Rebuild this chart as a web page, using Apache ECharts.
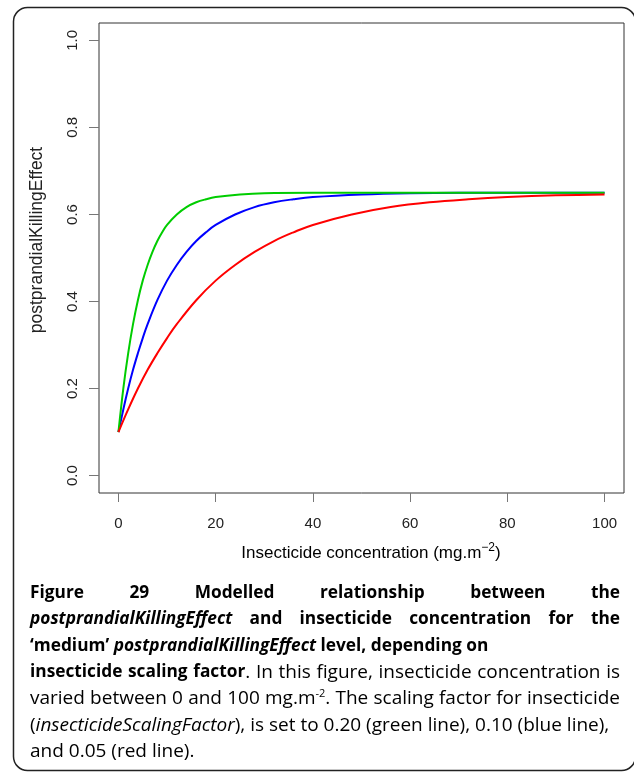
<!DOCTYPE html>
<html><head><meta charset="utf-8">
<script src="https://cdn.jsdelivr.net/npm/echarts@6/dist/echarts.min.js"></script>
<style>html,body{margin:0;padding:0;background:#fff}#c{width:634px;height:773px}</style>
</head><body><div id="c"></div>
<script>
// ---- data ----
const concGreen = [0,1,2,3,4,5,6,7,8,9,10,12,14,16,18,20,25,30,40,50,60,70,80,90,100];
const effectGreen = [0.100,0.200,0.281,0.348,0.403,0.448,0.484,0.514,0.539,0.559,0.576,0.600,0.617,0.628,0.635,0.640,0.646,0.649,0.650,0.650,0.650,0.650,0.650,0.650,0.650];
const concBlue = [0,1,2,3,4,5,6,8,10,12,14,16,18,20,24,28,32,36,40,50,60,70,80,90,100];
const effectBlue = [0.100,0.152,0.200,0.243,0.281,0.316,0.348,0.403,0.448,0.484,0.514,0.539,0.559,0.576,0.600,0.617,0.628,0.635,0.640,0.646,0.649,0.650,0.650,0.650,0.650];
const concRed = [0,2,4,6,8,10,12,16,20,24,28,32,36,40,48,56,64,72,80,90,100];
const effectRed = [0.100,0.152,0.200,0.243,0.281,0.316,0.348,0.403,0.448,0.484,0.514,0.539,0.559,0.576,0.600,0.617,0.628,0.635,0.640,0.644,0.646];
const xTicks = [0,20,40,60,80,100];
const yTicks = [0,0.2,0.4,0.6,0.8,1.0];
const yTitle = 'postprandialKillingEffect';
const xTitle = 'Insecticide concentration (mg.m';

// caption lines: [style, text] segments; justify flag
const captionLines = [
  {justify:true,  segs:[['b','Figure 29 Modelled relationship between the']]},
  {justify:true,  segs:[['bi','postprandialKillingEffect'],['b',' and insecticide concentration for the']]},
  {justify:false, segs:[['b','\u2018medium\u2019 '],['bi','postprandialKillingEffect'],['b',' level, depending on']]},
  {justify:true,  segs:[['b','insecticide scaling factor'],['r','. In this figure, insecticide concentration is']]},
  {justify:true,  segs:[['r','varied between 0 and 100 mg.m'],['sup','-2'],['r','. The scaling factor for insecticide']]},
  {justify:false, segs:[['r','('],['i','insecticideScalingFactor'],['r','), is set to 0.20 (green line), 0.10 (blue line),']]},
  {justify:false, segs:[['r','and 0.05 (red line).']]}
];

const axisFont = '"Liberation Sans", Arial, sans-serif';
const capFam = '"Open Sans", sans-serif';
const capColor = '#231f20';
const capStyles = {
  b:{fontWeight:'bold', fontStyle:'normal', fontSize:17.3},
  bi:{fontWeight:'bold', fontStyle:'italic', fontSize:17.3},
  r:{fontWeight:'normal', fontStyle:'normal', fontSize:19},
  i:{fontWeight:'normal', fontStyle:'italic', fontSize:19},
  sup:{fontWeight:'normal', fontStyle:'normal', fontSize:11}
};
const rich = {};
Object.keys(capStyles).forEach(k => {
  const s = capStyles[k];
  rich[k] = {fontFamily:capFam, fontSize:s.fontSize, fontWeight:s.fontWeight, fontStyle:s.fontStyle, color:capColor, lineHeight:26};
});
rich.sup.verticalAlign = 'top';
rich.sup.padding = [2,0,0,0];

const cv = document.createElement('canvas').getContext('2d');
function measure(st, txt) {
  const s = capStyles[st];
  cv.font = s.fontStyle + ' ' + s.fontWeight + ' ' + s.fontSize + 'px ' + capFam;
  return cv.measureText(txt).width;
}
const capLeft = 30, capRight = 620, capTop = 593, capStep = 26.5;
const capEls = [];
captionLines.forEach((ln, li) => {
  const y = capTop + li * capStep;
  if (!ln.justify) {
    capEls.push({type:'text', x:capLeft, y:y, silent:true,
      style:{text: ln.segs.map(s => '{'+s[0]+'|'+s[1]+'}').join(''), rich:rich,
        align:'left', textAlign:'left', verticalAlign:'middle', textVerticalAlign:'middle'}});
    return;
  }
  const words = [[]];
  ln.segs.forEach(([st, txt]) => {
    const parts = txt.split(' ');
    parts.forEach((p, pi) => {
      if (pi > 0) words.push([]);
      if (p.length) words[words.length-1].push([st, p]);
    });
  });
  const ws = words.filter(w => w.length);
  const widths = ws.map(w => w.reduce((a, [st, t]) => a + measure(st, t), 0));
  const gap = (capRight - capLeft - widths.reduce((a,b)=>a+b,0)) / (ws.length - 1);
  let x = capLeft;
  ws.forEach((w, wi) => {
    capEls.push({type:'text', x:x, y:y, silent:true,
      style:{text: w.map(s => '{'+s[0]+'|'+s[1]+'}').join(''), rich:rich,
        align:'left', textAlign:'left', verticalAlign:'middle', textVerticalAlign:'middle'}});
    x += widths[wi] + gap;
  });
});

const zip = (a,b) => a.map((v,i)=>[v,b[i]]);
const chart = echarts.init(document.getElementById('c'), null, {renderer:'canvas'});
chart.setOption({
  animation:false,
  backgroundColor:'#fff',
  grid:{left:99, right:10, top:23, bottom:280, show:true, borderColor:'#333', borderWidth:1, backgroundColor:'transparent', outerBoundsMode:'none'},
  xAxis:{type:'value', min:-4, max:104,
    axisLine:{show:false, onZero:false}, splitLine:{show:false},
    axisTick:{show:true, length:9, lineStyle:{color:'#777', width:1}, customValues:xTicks},
    axisLabel:{customValues:xTicks, fontFamily:axisFont, fontSize:15, color:'#222', margin:23}},
  yAxis:{type:'value', min:-0.04, max:1.04,
    axisLine:{show:false, onZero:false}, splitLine:{show:false},
    axisTick:{show:true, length:10, lineStyle:{color:'#777', width:1}, customValues:yTicks},
    axisLabel:{customValues:yTicks, rotate:90, fontFamily:axisFont, fontSize:15, color:'#222', margin:19,
      formatter:v => v.toFixed(1)}},
  series:[
    {type:'line', name:'0.10', data:zip(concBlue,effectBlue), showSymbol:false, smooth:0.4, lineStyle:{color:'#0000FF', width:2}, z:2},
    {type:'line', name:'0.20', data:zip(concGreen,effectGreen), showSymbol:false, smooth:0.4, lineStyle:{color:'#00CD00', width:2}, z:3},
    {type:'line', name:'0.05', data:zip(concRed,effectRed), showSymbol:false, smooth:0.4, lineStyle:{color:'#FF0000', width:2}, z:4}
  ],
  graphic:[
    {type:'rect', silent:true, z:-10, shape:{x:13.5, y:7.5, width:622, height:763, r:14}, style:{fill:'none', stroke:'#222', lineWidth:1.5}},
    {type:'text', x:37, y:240, rotation:Math.PI/2, silent:true,
      style:{text:yTitle, font:'17.5px '+axisFont, fill:'#222', align:'center', textAlign:'center', verticalAlign:'middle', textVerticalAlign:'middle'}},
    {type:'text', x:371, y:553, silent:true,
      style:{text:'{a|'+xTitle+'}{s|\u22122}{a|)}', align:'center', textAlign:'center', verticalAlign:'middle', textVerticalAlign:'middle',
        rich:{a:{fontFamily:axisFont, fontSize:17, color:'#222', lineHeight:22},
              s:{fontFamily:axisFont, fontSize:12, color:'#222', lineHeight:22, verticalAlign:'top'}}}},
    ...capEls
  ]
});
</script></body></html>
